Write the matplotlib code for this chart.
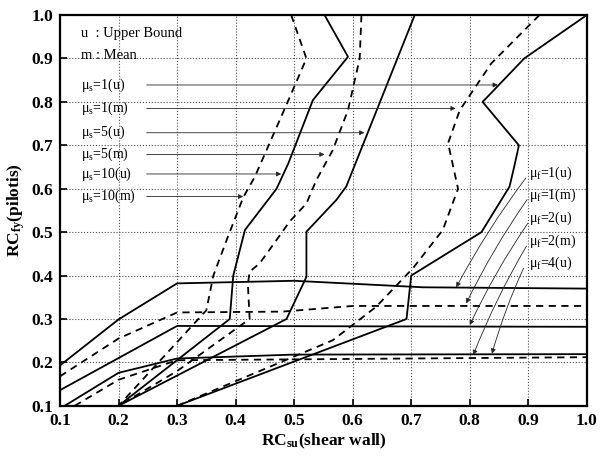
import matplotlib.pyplot as plt
import numpy as np

plt.rcParams['font.family'] = ['Liberation Serif', 'DejaVu Serif']
plt.rcParams['mathtext.default'] = 'regular'

# mu_s curves (RC_su along x, RC_fy along y)
ms10m_x = [0.495, 0.521, 0.488, 0.433, 0.413, 0.387, 0.362, 0.350, 0.200]
ms10m_y = [1.000, 0.900, 0.797, 0.628, 0.580, 0.490, 0.400, 0.320, 0.100]
ms10u_x = [0.552, 0.592, 0.532, 0.490, 0.470, 0.416, 0.396, 0.390, 0.200]
ms10u_y = [1.000, 0.904, 0.804, 0.658, 0.600, 0.505, 0.400, 0.300, 0.100]
ms5m_x = [0.615, 0.612, 0.592, 0.566, 0.538, 0.521, 0.492, 0.470, 0.441, 0.424, 0.421, 0.424, 0.300, 0.200]
ms5m_y = [1.000, 0.900, 0.781, 0.689, 0.620, 0.566, 0.524, 0.482, 0.428, 0.409, 0.380, 0.300, 0.180, 0.100]
ms5u_x = [0.706, 0.589, 0.572, 0.521, 0.521, 0.487, 0.200]
ms5u_y = [1.000, 0.605, 0.574, 0.501, 0.397, 0.300, 0.100]
ms1m_x = [0.919, 0.837, 0.783, 0.763, 0.780, 0.754, 0.703, 0.640, 0.566, 0.300]
ms1m_y = [1.000, 0.889, 0.781, 0.705, 0.600, 0.505, 0.417, 0.328, 0.251, 0.100]
ms1u_x = [1.000, 0.893, 0.822, 0.884, 0.876, 0.868, 0.820, 0.700, 0.692, 0.300]
ms1u_y = [1.000, 0.900, 0.800, 0.700, 0.651, 0.605, 0.500, 0.400, 0.300, 0.100]

# mu_f curves
mf1u_x = [0.100, 0.200, 0.300, 0.500, 0.720, 1.000]
mf1u_y = [0.193, 0.299, 0.382, 0.388, 0.373, 0.370]
mf1m_x = [0.100, 0.200, 0.300, 0.480, 0.600, 1.000]
mf1m_y = [0.168, 0.255, 0.315, 0.317, 0.330, 0.330]
mf2u_x = [0.100, 0.300, 1.000]
mf2u_y = [0.136, 0.284, 0.282]
mf2m_x = [0.125, 0.200, 0.300, 1.000]
mf2m_y = [0.100, 0.160, 0.205, 0.212]
mf4u_x = [0.108, 0.200, 0.300, 0.500, 1.000]
mf4u_y = [0.100, 0.176, 0.209, 0.218, 0.219]

# arrow labels
ms_labels = ['1(u)', '1(m)', '5(u)', '5(m)', '10(u)', '10(m)']
ms_label_y = [0.839, 0.785, 0.729, 0.679, 0.634, 0.582]
ms_tip_x = [0.848, 0.776, 0.620, 0.552, 0.478, 0.413]

mf_labels = ['1(u)', '1(m)', '2(u)', '2(m)', '4(u)']
mf_label_y = [0.636, 0.585, 0.532, 0.480, 0.428]
mf_start = [(0.896, 0.625), (0.898, 0.575), (0.899, 0.520), (0.897, 0.468), (0.892, 0.417)]
mf_tip = [(0.777, 0.373), (0.794, 0.336), (0.800, 0.286), (0.806, 0.217), (0.838, 0.220)]

ticks = np.arange(0.1, 1.01, 0.1)

fig = plt.figure(figsize=(6, 4.57), dpi=100)
ax = fig.add_axes([0.1, 0.112, 0.878, 0.855])

dash = (0, (4, 3))
solid_kw = dict(color='black', lw=1.3)
dash_kw = dict(color='black', lw=1.3, linestyle=dash)

ax.plot(ms10m_x, ms10m_y, **dash_kw)
ax.plot(ms10u_x, ms10u_y, **solid_kw)
ax.plot(ms5m_x, ms5m_y, **dash_kw)
ax.plot(ms5u_x, ms5u_y, **solid_kw)
ax.plot(ms1m_x, ms1m_y, **dash_kw)
ax.plot(ms1u_x, ms1u_y, **solid_kw)

ax.plot(mf1u_x, mf1u_y, **solid_kw)
ax.plot(mf1m_x, mf1m_y, **dash_kw)
ax.plot(mf2u_x, mf2u_y, **solid_kw)
ax.plot(mf2m_x, mf2m_y, **dash_kw)
ax.plot(mf4u_x, mf4u_y, **solid_kw)

arrow = dict(arrowstyle='-|>', lw=0.6, color='0.15', mutation_scale=7,
             shrinkA=0, shrinkB=0)

ax.text(0.136, 0.958, 'u  : Upper Bound', fontsize=10.5, va='center')
ax.text(0.136, 0.908, 'm : Mean', fontsize=10.5, va='center')

for lab, y, tx in zip(ms_labels, ms_label_y, ms_tip_x):
    ax.text(0.136, y, r'$\mu_s$=' + lab, fontsize=10, va='center')
    ax.annotate('', xy=(tx, y), xytext=(0.248, y), arrowprops=arrow)

for lab, y, s, t in zip(mf_labels, mf_label_y, mf_start, mf_tip):
    ax.text(0.902, y, r'$\mu_f$=' + lab, fontsize=10, va='center')
    ax.annotate('', xy=t, xytext=s,
                arrowprops=dict(arrow, connectionstyle='arc3,rad=0.04'))

ax.set_xlim(0.1, 1.0)
ax.set_ylim(0.1, 1.0)
ax.set_xticks(ticks)
ax.set_yticks(ticks)
ax.set_xticklabels([f'{t:.1f}' for t in ticks], fontweight='bold', fontsize=12.5)
ax.set_yticklabels([f'{t:.1f}' for t in ticks], fontweight='bold', fontsize=12.5)
ax.tick_params(direction='in', length=5, width=1.2, pad=5)
ax.grid(True, linestyle=':', linewidth=0.8, color='0.3')
for sp in ax.spines.values():
    sp.set_linewidth(1.6)

ax.set_xlabel(r'RC$_{su}$(shear wall)', fontweight='bold', fontsize=12.5, labelpad=2)
ax.set_ylabel(r'RC$_{fy}$(pilotis)', fontweight='bold', fontsize=12.5, labelpad=3)

fig.savefig('out.png', dpi=100)
